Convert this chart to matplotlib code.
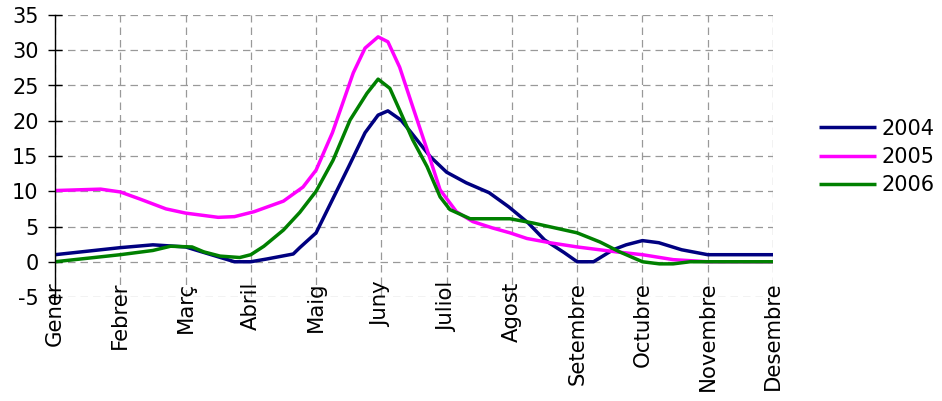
import matplotlib
matplotlib.use("Agg")
import matplotlib.pyplot as plt

months = ["Gener", "Febrer", "Març", "Abril", "Maig", "Juny", "Juliol",
          "Agost", "Setembre", "Octubre", "Novembre", "Desembre"]

t2004 = [0, 1.0, 1.5, 2.0, 2.75, 3.0, 3.25, 3.65, 3.75, 4.0, 4.25, 4.5, 4.75, 4.95,
         5.1, 5.3, 5.45, 5.75, 6.0, 6.3, 6.65, 6.95, 7.25, 7.5, 7.8, 8.0, 8.25,
         8.55, 8.75, 9.0, 9.25, 9.6, 10.0, 11.0]
v2004 = [1.0, 2.0, 2.4, 2.1, 0.0, 0.0, 0.4, 1.1, 2.0, 4.1, 8.8, 13.5, 18.3, 20.8,
         21.4, 20.1, 18.4, 14.9, 12.7, 11.2, 9.8, 7.8, 5.5, 3.1, 1.3, 0.0, 0.0,
         1.7, 2.4, 3.0, 2.7, 1.7, 1.0, 1.0]

t2005 = [0, 0.7, 1.0, 1.3, 1.7, 2.0, 2.5, 2.75, 3.05, 3.5, 3.8, 4.0, 4.25, 4.57,
         4.75, 4.95, 5.1, 5.28, 5.48, 5.7, 5.9, 6.15, 6.4, 6.7, 6.97, 7.23, 7.58,
         8.0, 8.6, 9.0, 9.47, 10.0, 11.0]
v2005 = [10.1, 10.3, 9.9, 8.9, 7.5, 6.9, 6.3, 6.4, 7.1, 8.6, 10.6, 13.0, 18.3, 26.8,
         30.3, 31.9, 31.2, 27.6, 22.0, 15.9, 10.2, 7.1, 5.7, 4.8, 4.1, 3.3, 2.7,
         2.1, 1.4, 1.0, 0.3, 0.0, 0.0]

t2006 = [0, 1.0, 1.5, 1.77, 2.1, 2.28, 2.53, 2.83, 3.0, 3.2, 3.5, 3.75, 4.0, 4.26,
         4.52, 4.78, 4.95, 5.13, 5.28, 5.48, 5.7, 5.9, 6.05, 6.36, 6.97, 7.32,
         8.0, 8.35, 8.65, 9.0, 9.26, 9.47, 9.73, 11.0]
v2006 = [0.0, 1.0, 1.6, 2.2, 2.1, 1.4, 0.8, 0.6, 1.0, 2.2, 4.5, 7.0, 10.0, 14.4,
         20.1, 23.9, 25.9, 24.6, 21.5, 17.3, 13.5, 9.2, 7.4, 6.1, 6.1, 5.5,
         4.1, 2.8, 1.4, 0.0, -0.3, -0.3, 0.0, 0.0]

series = [("2004", t2004, v2004, "#000080"),
          ("2005", t2005, v2005, "#FF00FF"),
          ("2006", t2006, v2006, "#008000")]

plt.rcParams['font.family'] = ['DejaVu Sans']
plt.rcParams['axes.unicode_minus'] = False

fig = plt.figure(figsize=(9.42, 4.01), dpi=100)
ax = fig.add_axes([55/942, 1-297/401, (773-55)/942, (297-15)/401])

for name, t, v, c in series:
    ax.plot(t, v, color=c, lw=2.5, label=name, solid_joinstyle='round', solid_capstyle='butt')

ax.set_xlim(0, 11)
ax.set_ylim(-5, 35)
ax.set_yticks(range(-5, 36, 5))
ax.set_xticks(range(12))
ax.set_xticklabels(months, rotation=90, fontsize=15.3, va='top')
ax.tick_params(axis='y', labelsize=15, length=9.5, width=1, direction='inout', pad=7)
ax.tick_params(axis='x', length=0, pad=-11)

for s in ['top', 'right', 'bottom']:
    ax.spines[s].set_visible(False)
ax.spines['left'].set_linewidth(1)
ax.grid(True, color='#999999', linestyle=(0, (6, 4)), linewidth=0.9)
ax.set_axisbelow(True)

fig.legend(loc='center left', bbox_to_anchor=(819/942, 1-157/401), frameon=False,
           fontsize=15, handlelength=2.75, handletextpad=0.25, labelspacing=0.4,
           borderaxespad=0, borderpad=0)

fig.savefig("out.png", dpi=100)
